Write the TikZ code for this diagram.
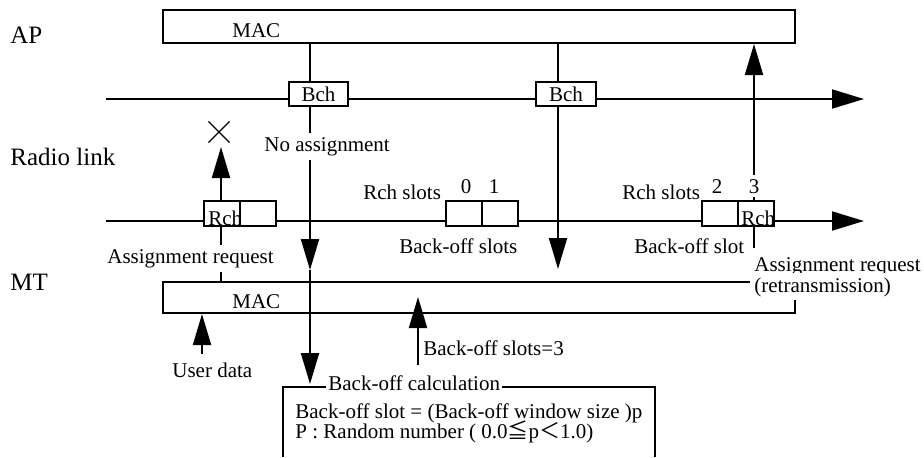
\documentclass[tikz,border=0pt]{standalone}
\usepackage{fontspec}
\setmainfont{Liberation Serif}
\newfontfamily\cjk{Noto Sans CJK JP}
\usetikzlibrary{arrows.meta, shapes.misc, backgrounds}

\begin{document}
\begin{tikzpicture}[
  x=0.5pt, y=-0.5pt,
  every node/.style={font=\fontsize{10.5}{12}\selectfont},
  box/.style={rectangle, draw, line width=1pt, inner sep=0pt},
  cell/.style={box, fill=white, minimum width=18pt, minimum height=12.5pt},
  wire/.style={line width=1pt},
  conn/.style={wire, -{Triangle[length=15.5pt, width=9pt]}},
  axis/.style={wire, -{Triangle[length=16pt, width=9.5pt]}},
  lbl/.style={inner sep=0pt, anchor=base west},
  side/.style={lbl, font=\fontsize{12.5}{14}\selectfont},
  gap/.style={lbl, fill=white, inner sep=2pt}
]
  \useasboundingbox (0,0) rectangle (924,457);

  % layer names
  \node[side] (ap) at (10,43) {AP};
  \node[side] (radio) at (10,165) {Radio link};
  \node[side] (mt) at (10,290) {MT};

  % MAC blocks
  \node[box, minimum width=316pt, minimum height=16.5pt] (apmac) at (479,26.5) {};
  \node[lbl] (apmactxt) at (232,37) {MAC};
  \node[box, minimum width=316pt, minimum height=15.5pt] (mtmac) at (479,297.5) {};
  \node[lbl] (mtmactxt) at (232,308) {MAC};

  % Bch slots
  \node[box, fill=white, minimum width=29.5pt, minimum height=12pt] (bch1) at (318.5,94) {Bch};
  \node[box, fill=white, minimum width=30pt, minimum height=12pt] (bch2) at (566,94) {Bch};

  % Rch slots
  \node[cell] (ra1) at (222,213.5) {};
  \node[lbl] (rchtxt1) at (208,225) {Rch};
  \node[cell] (ra2) at (258,213.5) {};
  \node[cell] (rb1) at (464,213.5) {};
  \node[cell] (rb2) at (500,213.5) {};
  \node[cell] (rc1) at (720,213.5) {};
  \node[cell] (rc2) at (756,213.5) {};
  \node[lbl] (rchtxt2) at (741,225) {Rch};

  \node[lbl] (slotsl) at (363,199) {Rch slots};
  \node[lbl, anchor=base] (n0) at (466,193) {0};
  \node[lbl, anchor=base] (n1) at (494,193) {1};
  \node[lbl] (slotsr) at (622,199) {Rch slots};
  \node[lbl, anchor=base] (n2) at (717,193) {2};
  \node[gap, anchor=base] (n3) at (754,193) {3};
  \node[lbl] (boffl) at (399,253) {Back-off slots};
  \node[lbl] (boffr) at (634,253) {Back-off slot};

  \node[cross out, draw, line width=0.6pt, minimum size=10pt, inner sep=0pt] (xmark) at (219,132) {};
  \node[gap] (noassign) at (260,151) {No assignment};
  \node[gap] (areq) at (103,263) {Assignment request};
  \node[gap] (areq2) at (750,271) {Assignment request};
  \node[gap] (retx) at (750,292) {(retransmission)};
  \node[lbl] (udata) at (172,377) {User data};
  \node[lbl] (bcount) at (423,355) {Back-off slots=3};

  % back-off calculation
  \draw[wire] (283,457) |- (655,387) -- (655,457);
  \node[gap, inner sep=1pt] (calctitle) at (326,390) {Back-off calculation};
  \node[lbl] (calc1) at (295,418) {Back-off slot = (Back-off window size )p};
  \node[lbl] (calc2) at (295,438) {P : Random number ( 0.0{\cjk ≦}p{\cjk ＜}1.0)};

  \begin{scope}[on background layer]
    \coordinate (bchs) at (106,99);  \coordinate (bche) at (864,99);
    \coordinate (rchs) at (106,221); \coordinate (rche) at (864,221);
    \coordinate (v1a) at (310,270);  \coordinate (v1b) at (310,384);
    \coordinate (v2a) at (558,269);
    \coordinate (v3a) at (754,248);
    \coordinate (v4a) at (221,147);
    \coordinate (uda) at (202,354);
    \coordinate (bca) at (418,365);  \coordinate (bcb) at (418,297);

    \draw[axis] (bchs) -- (bche);
    \draw[axis] (rchs) -- (rche);
    \draw[conn] (apmac.south -| v1a) -- (v1a);
    \draw[conn] (v1a) -- (v1b);
    \draw[conn] (apmac.south -| v2a) -- (v2a);
    \draw[conn] (v3a) -- (v3a |- apmac.south);
    \draw[conn] (v4a |- mtmac.north) -- (v4a);
    \draw[conn] (uda) -- (uda |- mtmac.south);
    \draw[conn] (bca) -- (bcb);
  \end{scope}
\end{tikzpicture}
\end{document}
